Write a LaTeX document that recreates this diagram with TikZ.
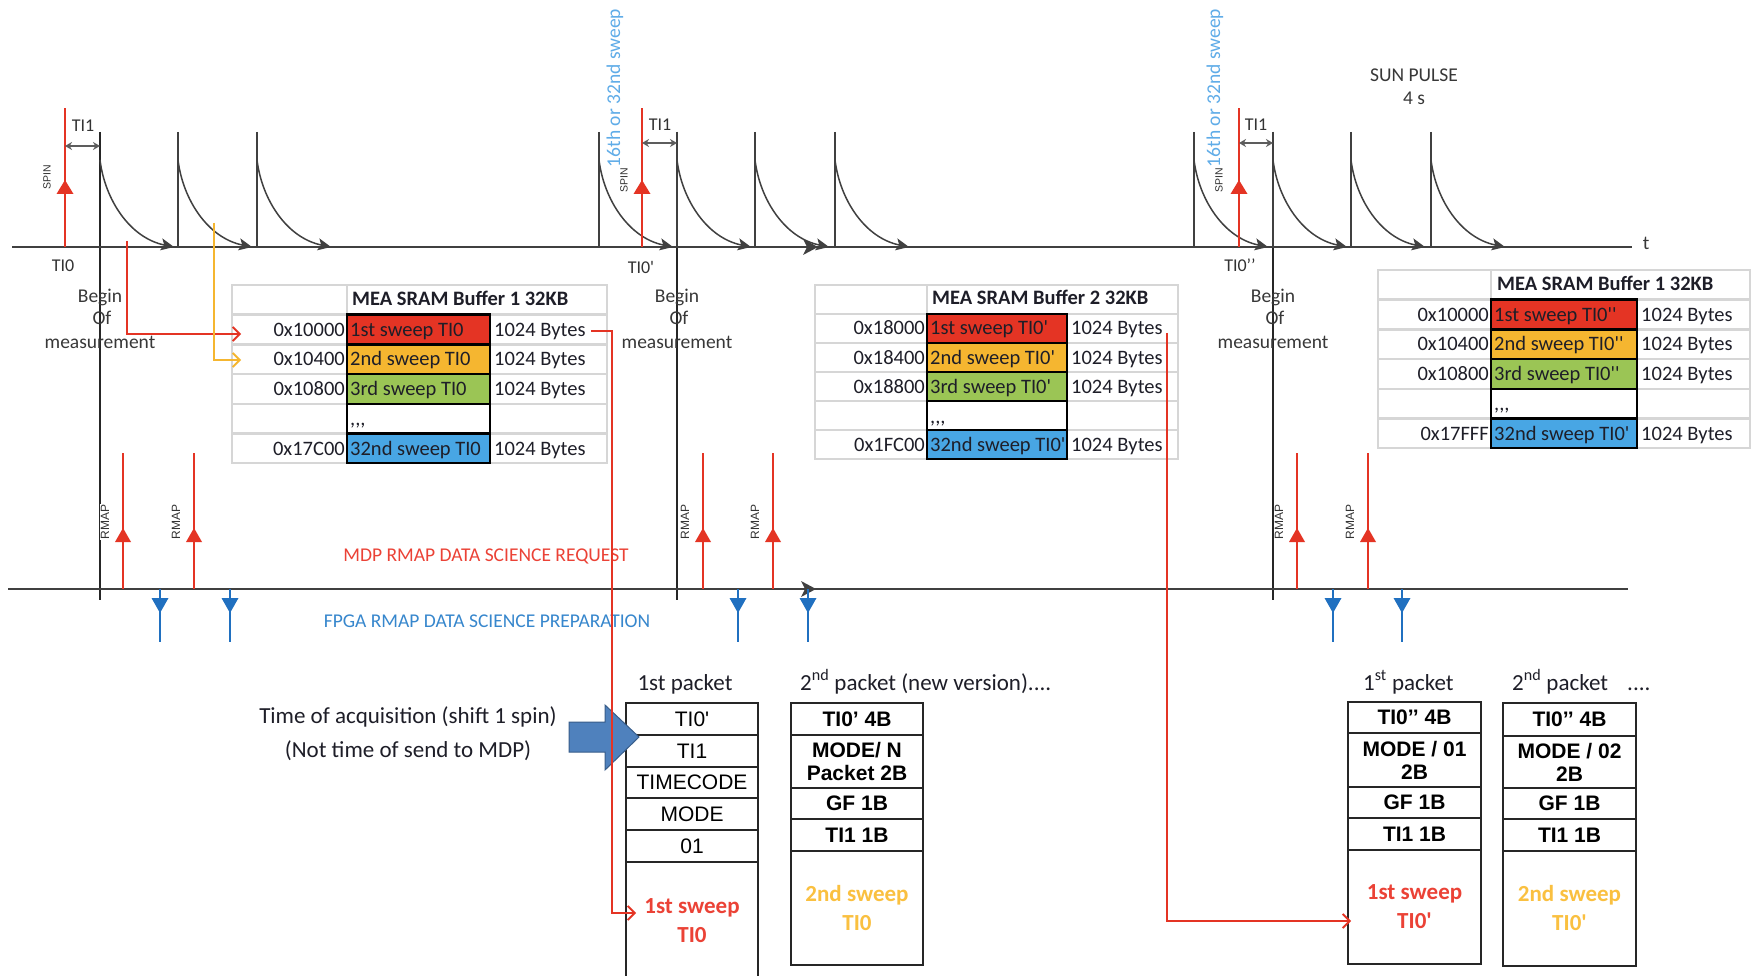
\documentclass[tikz,border=0pt]{standalone}
\usepackage{fontspec}
\setmainfont{Carlito}[Ligatures=TeXOff]
\newfontfamily\arialf{Liberation Sans}[Ligatures=TeXOff]
\usetikzlibrary{arrows.meta}
\definecolor{axg}{RGB}{64,64,64}
\definecolor{redc}{RGB}{228,52,36}
\definecolor{orc}{RGB}{245,182,48}
\definecolor{grc}{RGB}{155,197,85}
\definecolor{blc}{RGB}{72,166,228}
\definecolor{tgray}{RGB}{214,214,214}
\definecolor{lblue}{RGB}{95,172,232}
\definecolor{bluetxt}{RGB}{55,135,205}
\definecolor{bluearr}{RGB}{32,112,192}
\definecolor{bigarr}{RGB}{79,129,189}
\definecolor{bigarrd}{RGB}{56,93,138}
\definecolor{txt}{RGB}{30,30,40}
\definecolor{redtxt}{RGB}{235,66,54}
\definecolor{ortxt}{RGB}{250,192,64}
\tikzset{
 axisl/.style={draw=axg, line width=2.8pt},
 pulse/.style={draw=axg, line width=2pt},
 decay/.style={draw=axg, line width=1.5pt, -{Stealth[length=13pt,width=12pt,inset=3pt]}},
 beginl/.style={draw=black!85, line width=1.1pt},
 spinl/.style={draw=redc, line width=2.8pt},
 tione/.style={draw=axg!85, line width=1.8pt, {Stealth[length=7pt,width=8pt]}-{Stealth[length=7pt,width=8pt]}},
 redconn/.style={draw=redc, line width=1.8pt, -{Straight Barb[length=7pt,width=14pt]}},
 orconn/.style={draw=orc, line width=1.8pt, -{Straight Barb[length=7pt,width=14pt]}},
 reqline/.style={draw=redc, line width=2.6pt},
 prepline/.style={draw=bluearr, line width=2.6pt},
 tgrid/.style={draw=tgray, line width=2.4pt},
 tt/.style={inner sep=0pt, text=txt, font=\fontsize{20.5}{24}\selectfont},
 tth/.style={inner sep=0pt, text=txt, font=\bfseries\fontsize{20.5}{24}\selectfont},
 lbl/.style={inner sep=0pt, text=black!78, font=\fontsize{19.5}{23}\selectfont},
 small/.style={inner sep=0pt, text=black!80, font=\fontsize{18}{21}\selectfont},
 spinlab/.style={inner sep=0.5pt, rotate=90, text=black!80, font=\arialf\fontsize{10.5}{12}\selectfont},
 rmaplab/.style={inner sep=1pt, rotate=90, fill=white, text=black!80, font=\arialf\fontsize{12}{14}\selectfont},
 sweeplab/.style={inner sep=0pt, rotate=90, text=lblue, font=\fontsize{19.5}{23}\selectfont},
 pkt/.style={inner sep=0pt, text=txt, font=\fontsize{23}{27}\selectfont},
 pkc/.style={draw=black!85, line width=1.8pt, inner sep=0pt, align=center, text=black, font=\arialf\bfseries\fontsize{21}{23}\selectfont},
 pkr/.style={draw=black!85, line width=1.8pt, inner sep=0pt, align=center, text=black, font=\arialf\fontsize{21}{23}\selectfont},
 pksw/.style={draw=black!85, line width=1.8pt, inner sep=0pt, align=center, font=\bfseries\fontsize{23}{29}\selectfont},
}
\newcommand{\bgrid}[6]{%
 \draw[tgrid] (#1,#5) rectangle (#4,#5+6*#6);
 \foreach \i in {1,...,5} \draw[tgrid] (#1,#5+\i*#6) -- (#4,#5+\i*#6);
 \draw[tgrid] (#2,#5) -- (#2,#5+6*#6);
 \draw[tgrid] (#3,#5+#6) -- (#3,#5+6*#6);
 \foreach \i/\c in {1/redc,2/orc,3/grc,4/white,5/blc}
   \filldraw[fill=\c, draw=black, line width=2.4pt] (#2,#5+\i*#6) rectangle (#3,#5+\i*#6+#6);
}
\begin{document}
\begin{tikzpicture}[x=1pt,y=-1pt]
\useasboundingbox (0,0) rectangle (1754,976);
\fill[white] (0,0) rectangle (1754,976);

% ---------- begin-of-measurement lines
\foreach \x/\n in {100/a,677/b,1273/c} {
  \coordinate (bg\n t) at (\x,132); \coordinate (bg\n b) at (\x,600);
  \draw[beginl] (bg\n t) -- (bg\n b);
}

% ---------- top axis
\coordinate (ta0) at (12,247); \coordinate (ta1) at (1632,247);
\draw[axisl] (ta0) -- (ta1);
\node[lbl, name=tlab] at (1646,243) {t};
\fill[axg] (818,247) -- (803,239) -- (807,247) -- (803,255) -- cycle;

% pulses and decays
\foreach \x in {178,257,599,677,755,835,1194,1273,1351,1431} \draw[pulse] (\x,132) -- (\x,247);
\foreach \x in {100,178,257,599,677,755,835,1194,1273,1351,1431}
  \draw[decay] (\x,160) .. controls (\x+5,200) and (\x+30,238) .. (\x+74,247);

% spin arrows
\foreach \x/\n in {65/a,642/b,1239/c} {
  \coordinate (sp\n b) at (\x,247); \coordinate (sp\n t) at (\x,108);
  \draw[spinl] (sp\n b) -- (sp\n t);
  \fill[redc] (\x,180) -- (\x-8.5,194) -- (\x+8.5,194) -- cycle;
}
\node[spinlab, name=spla] at (47,177) {SPIN};
\node[spinlab, name=splb] at (624,180) {SPIN};
\node[spinlab, name=splc] at (1219,180) {SPIN};

% TI1
\coordinate (t1as) at (65,146); \coordinate (t1ae) at (100,146);
\coordinate (t1bs) at (642,143); \coordinate (t1be) at (677,143);
\coordinate (t1cs) at (1239,143); \coordinate (t1ce) at (1273,143);
\draw[tione] (t1as) -- (t1ae);
\draw[tione] (t1bs) -- (t1be);
\draw[tione] (t1cs) -- (t1ce);
\node[small, name=tia] at (83,126) {TI1};
\node[small, name=tib] at (660,125) {TI1};
\node[small, name=tic] at (1256,125) {TI1};

% TI0 labels
\node[small, name=tza] at (63,266) {TI0};
\node[small, name=tzb] at (641,267) {TI0'};
\node[small, name=tzc] at (1240,265) {TI0’’};

% sweep labels
\node[sweeplab, name=swa] at (615,88) {16th or 32nd sweep};
\node[sweeplab, name=swb] at (1215,88) {16th or 32nd sweep};

% sun pulse
\node[lbl, name=sun] at (1414,75) {SUN PULSE};
\node[lbl, name=sun4] at (1414,98) {4 s};

% begin of measurement labels
\foreach \x/\n in {100/a,677/b,1273/c} {
  \node[lbl, name=bo1\n] at (\x,297) {Begin};
  \node[lbl, name=bo2\n] at (\x+2,318) {Of};
  \node[lbl, name=bo3\n] at (\x,342) {measurement};
}

% ---------- tables
\bgrid{232}{347}{490}{607}{285}{29.7}
\node[tth, anchor=base west, name=h1] at (352,306) {MEA SRAM Buffer 1 32KB};
\foreach \i/\ad/\ce in {1/0x10000/1st sweep TI0,2/0x10400/2nd sweep TI0,3/0x10800/3rd sweep TI0,5/0x17C00/32nd sweep TI0}{
  \node[tt, anchor=base east, name=ta\i] at (345,285+\i*29.7+21.5) {\ad};
  \node[tt, anchor=base west, name=tb\i] at (350,285+\i*29.7+21.5) {\ce};
  \node[tt, anchor=base west, name=tc\i] at (494,285+\i*29.7+21.5) {1024 Bytes};
}
\node[tt, anchor=base west, name=td4] at (350,285+4*29.7+22) {,,,};

\bgrid{815}{927}{1067}{1178}{285}{29}
\node[tth, anchor=base west, name=h2] at (932,305) {MEA SRAM Buffer 2 32KB};
\foreach \i/\ad/\ce in {1/0x18000/1st sweep TI0',2/0x18400/2nd sweep TI0',3/0x18800/3rd sweep TI0',5/0x1FC00/32nd sweep TI0'}{
  \node[tt, anchor=base east, name=ua\i] at (925,285+\i*29+21) {\ad};
  \node[tt, anchor=base west, name=ub\i] at (930,285+\i*29+21) {\ce};
  \node[tt, anchor=base west, name=uc\i] at (1071,285+\i*29+21) {1024 Bytes};
}
\node[tt, anchor=base west, name=ud4] at (930,285+4*29+22) {,,,};

\bgrid{1378}{1491}{1637}{1750}{270}{29.7}
\node[tth, anchor=base west, name=h3] at (1497,291) {MEA SRAM Buffer 1 32KB};
\foreach \i/\ad/\ce in {1/0x10000/1st sweep TI0'',2/0x10400/2nd sweep TI0'',3/0x10800/3rd sweep TI0'',5/0x17FFF/32nd sweep TI0'}{
  \node[tt, anchor=base east, name=va\i] at (1489,270+\i*29.7+21.5) {\ad};
  \node[tt, anchor=base west, name=vb\i] at (1494,270+\i*29.7+21.5) {\ce};
  \node[tt, anchor=base west, name=vc\i] at (1641,270+\i*29.7+21.5) {1024 Bytes};
}
\node[tt, anchor=base west, name=vd4] at (1494,270+4*29.7+22) {,,,};

% ---------- bottom axis
\coordinate (ba0) at (8,589); \coordinate (ba1) at (1628,589);
\draw[axisl] (ba0) -- (ba1);
\fill[axg] (816,589) -- (801,581) -- (805,589) -- (801,597) -- cycle;

\foreach \x/\n in {123/a,194/b,703/c,773/d,1297/e,1368/f} {
  \coordinate (rq\n b) at (\x,589); \coordinate (rq\n t) at (\x,453);
  \draw[reqline] (rq\n b) -- (rq\n t);
  \fill[redc] (\x,528) -- (\x-8,542) -- (\x+8,542) -- cycle;
  \node[rmaplab, name=rm\n] at (\x-18,522) {RMAP};
}
\foreach \x/\n in {160/a,230/b,738/c,808/d,1333/e,1402/f} {
  \coordinate (pp\n t) at (\x,589); \coordinate (pp\n b) at (\x,642);
  \draw[prepline] (pp\n t) -- (pp\n b);
  \fill[bluearr] (\x,613) -- (\x-8.5,598) -- (\x+8.5,598) -- cycle;
}
\node[inner sep=0pt, text=redtxt, font=\fontsize{19.5}{23}\selectfont, name=mdp] at (486,556) {MDP RMAP DATA SCIENCE REQUEST};
\node[inner sep=0pt, text=bluetxt, font=\fontsize{19.5}{23}\selectfont, name=fpga] at (487,621) {FPGA RMAP DATA SCIENCE PREPARATION};

% ---------- packets
\node[pkt, anchor=base, name=p1t] at (685,690) {1st packet};
\node[pkr, minimum width=132pt, minimum height=32pt, name=p1a] at (692,719) {TI0'};
\node[pkr, minimum width=132pt, minimum height=32pt, name=p1b] at (692,751) {TI1};
\node[pkr, minimum width=132pt, minimum height=31pt, name=p1c] at (692,782.5) {TIMECODE};
\node[pkr, minimum width=132pt, minimum height=32pt, name=p1d] at (692,814) {MODE};
\node[pkr, minimum width=132pt, minimum height=32pt, name=p1e] at (692,846) {01};
\node[pksw, text=redtxt, minimum width=132pt, minimum height=118pt, name=p1f] at (692,921) {1st sweep\\TI0};

\node[pkt, anchor=base west, name=p2t] at (800,690) {2\textsuperscript{nd} packet (new version)....};
\node[pkc, minimum width=132pt, minimum height=32pt, name=p2a] at (857,719) {TI0’ 4B};
\node[pkc, minimum width=132pt, minimum height=53pt, name=p2b] at (857,761.5) {MODE/ N\\Packet 2B};
\node[pkc, minimum width=132pt, minimum height=31pt, name=p2c] at (857,803.5) {GF 1B};
\node[pkc, minimum width=132pt, minimum height=32pt, name=p2d] at (857,835) {TI1 1B};
\node[pksw, text=ortxt, minimum width=132pt, minimum height=114pt, name=p2e] at (857,908) {2nd sweep\\TI0};

\node[pkt, anchor=base west, name=p3t] at (1363,690) {1\textsuperscript{st} packet};
\node[pkc, minimum width=133pt, minimum height=31pt, name=p3a] at (1414.5,717.5) {TI0’’ 4B};
\node[pkc, minimum width=133pt, minimum height=54pt, name=p3b] at (1414.5,760) {MODE / 01\\2B};
\node[pkc, minimum width=133pt, minimum height=31pt, name=p3c] at (1414.5,802.5) {GF 1B};
\node[pkc, minimum width=133pt, minimum height=32pt, name=p3d] at (1414.5,834) {TI1 1B};
\node[pksw, text=redtxt, minimum width=133pt, minimum height=114pt, name=p3e] at (1414.5,907) {1st sweep\\TI0'};

\node[pkt, anchor=base west, name=p4t] at (1512,690) {2\textsuperscript{nd} packet};
\node[pkt, anchor=base west, name=p4dots] at (1627,690) {....};
\node[pkc, minimum width=133pt, minimum height=33pt, name=p4a] at (1569.5,719.5) {TI0’’ 4B};
\node[pkc, minimum width=133pt, minimum height=52pt, name=p4b] at (1569.5,762) {MODE / 02\\2B};
\node[pkc, minimum width=133pt, minimum height=31pt, name=p4c] at (1569.5,803.5) {GF 1B};
\node[pkc, minimum width=133pt, minimum height=32pt, name=p4d] at (1569.5,835) {TI1 1B};
\node[pksw, text=ortxt, minimum width=133pt, minimum height=115pt, name=p4e] at (1569.5,908.5) {2nd sweep\\TI0'};

% time of acquisition
\node[pkt, name=toa1] at (408,717) {Time of acquisition (shift 1 spin)};
\node[pkt, name=toa2] at (408,751) {(Not time of send to MDP)};
\filldraw[fill=bigarr, draw=bigarrd, line width=1pt] (569,722) -- (605,722) -- (605,705) -- (639,737) -- (605,770) -- (605,752) -- (569,752) -- cycle;

% ---------- connectors
\coordinate (r1s) at (127,241); \coordinate (r1c) at (127,334); \coordinate (r1e) at (241,334);
\draw[redconn] (r1s) -- (r1c) -- (r1e);
\coordinate (o1s) at (214,223); \coordinate (o1c) at (214,360); \coordinate (o1e) at (241,360);
\draw[orconn] (o1s) -- (o1c) -- (o1e);
\coordinate (r3s) at (591,331); \coordinate (r3c) at (612,331); \coordinate (r3d) at (612,913); \coordinate (r3e) at (636,913);
\draw[redconn] (r3s) -- (r3c) -- (r3d) -- (r3e);
\coordinate (r4s) at (1167,333); \coordinate (r4c) at (1167,921); \coordinate (r4e) at (1351,921);
\draw[redconn] (r4s) -- (r4c) -- (r4e);
\end{tikzpicture}
\end{document}
